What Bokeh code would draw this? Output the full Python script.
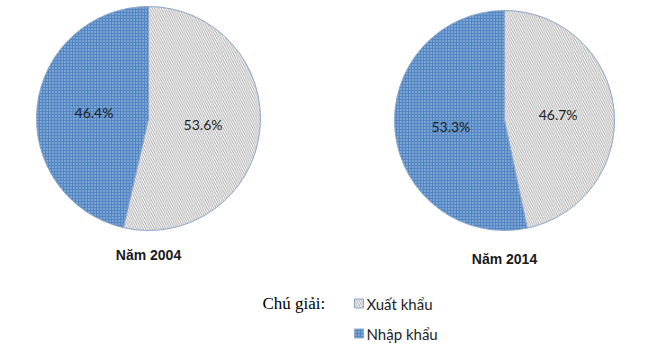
import math
from bokeh.plotting import figure
from bokeh.models import Range1d, ColumnDataSource
from bokeh.core.properties import value
from bokeh.embed import file_html
from bokeh.resources import INLINE

# ---- data ----
years = ["Năm 2004", "Năm 2014"]
categories = ["Xuất khẩu", "Nhập khẩu"]
export_share = [53.6, 46.7]
import_share = [46.4, 53.3]
legend_title = "Chú giải:"

# ---- layout ----
W, H = 650, 356
centers = [(148, 118), (504, 120)]
radii = [112, 110]
title_y = [254, 258]

EXP_STYLE = dict(fill_color="white", hatch_pattern="\\", hatch_color="#8c8c8c",
                 hatch_scale=4.5, hatch_weight=0.8)
IMP_STYLE = dict(fill_color="#5286c4", hatch_pattern=".", hatch_color="white",
                 hatch_scale=3, hatch_weight=1.2, hatch_alpha=0.6)

p = figure(width=W, height=H, x_range=Range1d(0, W), y_range=Range1d(0, H),
           output_backend="svg", toolbar_location=None, min_border=0)
p.axis.visible = False
p.grid.visible = False
p.outline_line_color = None
p.background_fill_color = "white"
p.border_fill_color = "white"

def Y(py):
    return H - py

for i, year in enumerate(years):
    cx, cy = centers[i]
    r = radii[i]
    shares = [export_share[i], import_share[i]]
    total = sum(shares)
    styles = [EXP_STYLE, IMP_STYLE]
    cum = 0.0
    lx, ly, lt = [], [], []
    for s, st in zip(shares, styles):
        a_end = math.pi / 2 - 2 * math.pi * cum / total
        a_start = math.pi / 2 - 2 * math.pi * (cum + s) / total
        src = ColumnDataSource(dict(x=[cx], y=[Y(cy)], sa=[a_start], ea=[a_end]))
        p.wedge(x="x", y="y", radius=r, start_angle="sa", end_angle="ea", source=src,
                line_color="#8ea6c8", line_width=1, **st)
        mid = (a_start + a_end) / 2
        lx.append(cx + 0.49 * r * math.cos(mid))
        ly.append(Y(cy) + 0.49 * r * math.sin(mid))
        lt.append(f"{s:.1f}%")
        cum += s
    p.text(x=lx, y=ly, text=lt, text_align="center", text_baseline="middle",
           text_font=value("Lato"), text_font_size="14px", text_color="#1e1e1e")
    p.text(x=[cx], y=[Y(title_y[i])], text=[year], text_align="center",
           text_baseline="middle", text_font=value("Liberation Sans"),
           text_font_size="14px", text_font_style="bold", text_color="#1a1a1a")

# ---- legend ----
p.text(x=[262], y=[Y(303)], text=[legend_title], text_align="left", text_baseline="middle",
       text_font=value("Liberation Serif"), text_font_size="17px", text_color="black")
leg_y = [303, 333]
for cat, st, yy in zip(categories, [EXP_STYLE, IMP_STYLE], leg_y):
    p.rect(x=[358.5], y=[Y(yy)], width=9, height=9, line_color="#8ea6c8",
           line_width=1, **st)
    p.text(x=[366], y=[Y(yy)], text=[cat], text_align="left", text_baseline="middle",
           text_font=value("Lato"), text_font_size="15px", text_color="#1e1e1e")

open("out.html", "w").write(file_html(p, INLINE))
